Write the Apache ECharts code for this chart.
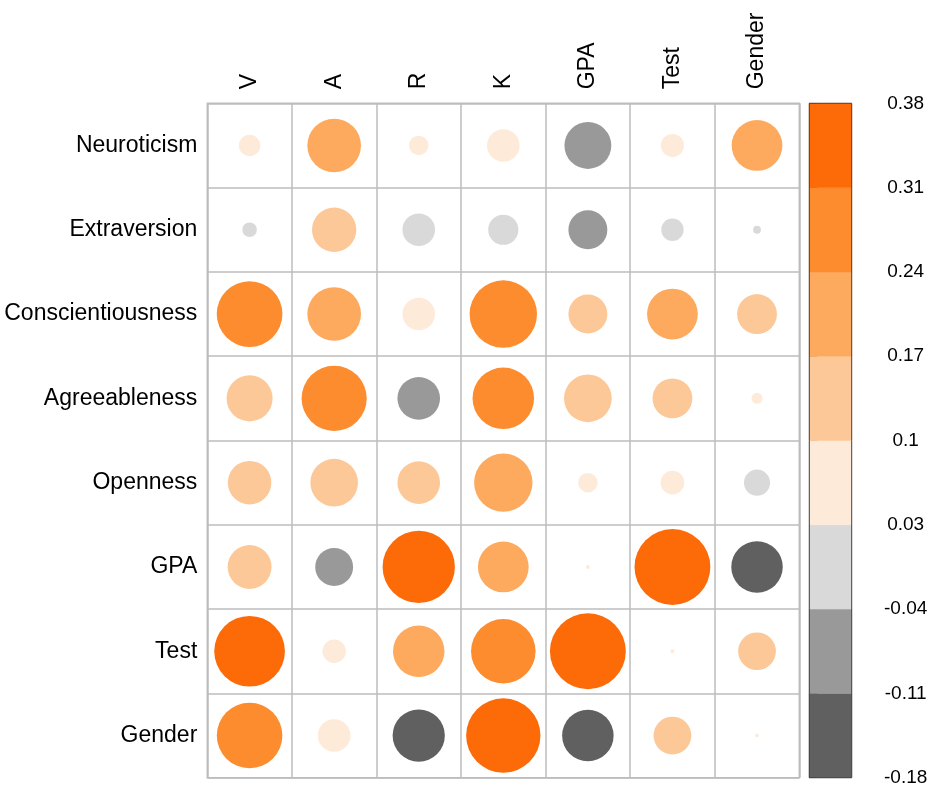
<!DOCTYPE html>
<html>
<head>
<meta charset="utf-8">
<title>Correlation plot</title>
<script src="https://cdn.jsdelivr.net/npm/echarts@6/dist/echarts.min.js"></script>
<style>
  html, body { margin: 0; padding: 0; background: #ffffff; }
  #chart { width: 931px; height: 788px; }
</style>
</head>
<body>
<div id="chart"></div>
<script>
// Column and row variables of the correlation matrix
const columns = ['V', 'A', 'R', 'K', 'GPA', 'Test', 'Gender'];
const rowNames = ['Neuroticism', 'Extraversion', 'Conscientiousness', 'Agreeableness', 'Openness', 'GPA', 'Test', 'Gender'];

// Correlations, one array per row (order follows `columns`)
const neuroticism       = [0.030, 0.190, 0.025, 0.070, -0.145, 0.035, 0.170];
const extraversion      = [-0.014, 0.130, -0.070, -0.060, -0.100, -0.033, -0.004];
const conscientiousness = [0.285, 0.190, 0.070, 0.300, 0.100, 0.170, 0.105];
const agreeableness     = [0.140, 0.280, -0.120, 0.250, 0.150, 0.105, 0.008];
const openness          = [0.125, 0.150, 0.120, 0.225, 0.025, 0.037, -0.045];
const gpa               = [0.127, -0.095, 0.345, 0.170, 0.001, 0.380, -0.175];
const test              = [0.330, 0.036, 0.175, 0.275, 0.380, 0.001, 0.094];
const gender            = [0.284, 0.070, -0.180, 0.365, -0.175, 0.094, 0.001];
const matrix = [neuroticism, extraversion, conscientiousness, agreeableness, openness, gpa, test, gender];

// Colour legend: tick labels (bottom to top) and the bin colours
const legendTicks = ['-0.18', '-0.11', '-0.04', '0.03', '0.1', '0.17', '0.24', '0.31', '0.38'];
const greyShades = ['#D9D9D9', '#999999', '#606060'];          // 0 -> more negative
const orangeShades = ['#FEEAD9', '#FDC898', '#FDAA5F', '#FD8C2F', '#FD6A08']; // 0 -> more positive
const legendColors = greyShades.slice().reverse().concat(orangeShades); // bottom to top

// Range used to scale circle size and colour
const valueMin = -0.18;
const valueMax = 0.38;
const absMax = Math.max(Math.abs(valueMin), Math.abs(valueMax));
const binWidth = absMax / orangeShades.length;

function shadeFor(v) {
  const idx = Math.floor(Math.abs(v) / binWidth);
  if (v < 0) return greyShades[Math.min(idx, greyShades.length - 1)];
  return orangeShades[Math.min(idx, orangeShades.length - 1)];
}

const points = [];
matrix.forEach((row, r) => {
  row.forEach((v, c) => points.push([c, r, v]));
});

// Layout
const gridLeft = 207.3, gridTop = 103.3, gridWidth = 592, gridHeight = 674.4;
const cellSize = Math.min(gridWidth / columns.length, gridHeight / rowNames.length);
const fontFamily = '"Liberation Sans", Arial, Helvetica, sans-serif';

const chart = echarts.init(document.getElementById('chart'), null, { renderer: 'canvas' });

chart.setOption({
  backgroundColor: '#ffffff',
  animation: false,
  grid: [
    { left: gridLeft, top: gridTop, width: gridWidth, height: gridHeight,
      show: true, borderColor: '#BDBDBD', borderWidth: 1.5, backgroundColor: 'transparent' },
    { left: 809.3, top: gridTop, width: 42.4, height: gridHeight, show: false }
  ],
  xAxis: [
    {
      gridIndex: 0, type: 'category', data: columns, position: 'top',
      axisLine: { show: false }, axisTick: { show: false },
      axisLabel: { rotate: -90, margin: 14, fontSize: 23, color: '#000', fontFamily: fontFamily },
      splitLine: { show: true, interval: 0, lineStyle: { color: '#BDBDBD', width: 1.5 } }
    },
    { gridIndex: 1, type: 'value', min: 0, max: 1, show: false }
  ],
  yAxis: [
    {
      gridIndex: 0, type: 'category', data: rowNames, inverse: true,
      axisLine: { show: false }, axisTick: { show: false },
      axisLabel: { margin: 10, fontSize: 23, color: '#000', fontFamily: fontFamily },
      splitLine: { show: true, interval: 0, lineStyle: { color: '#BDBDBD', width: 1.5 } }
    },
    {
      gridIndex: 1, type: 'value', min: 0, max: legendTicks.length - 1, interval: 1,
      position: 'right',
      axisLine: { show: true, lineStyle: { color: '#444', width: 1 } },
      axisTick: { show: true, length: 8, lineStyle: { color: '#444', width: 1 } },
      splitLine: { show: false },
      axisLabel: {
        margin: 54, align: 'center', fontSize: 19, color: '#000', fontFamily: fontFamily,
        formatter: (v) => legendTicks[v]
      }
    }
  ],
  series: [
    {
      type: 'scatter', xAxisIndex: 0, yAxisIndex: 0,
      data: points,
      symbol: 'circle',
      symbolSize: (d) => 0.9 * Math.sqrt(Math.abs(d[2]) / absMax) * cellSize,
      itemStyle: { color: (p) => shadeFor(p.data[2]), opacity: 1 },
      emphasis: { disabled: true }
    },
    {
      // colour bar bins
      type: 'custom', xAxisIndex: 1, yAxisIndex: 1,
      data: legendColors.map((col, i) => [i, col]),
      renderItem: (params, api) => {
        const i = api.value(0);
        const p0 = api.coord([0, i + 1]);
        const p1 = api.coord([1, i]);
        return {
          type: 'rect',
          shape: { x: p0[0], y: p0[1], width: p1[0] - p0[0], height: p1[1] - p0[1] },
          style: { fill: legendColors[i], stroke: legendColors[i], lineWidth: 0.5 }
        };
      },
      silent: true
    },
    {
      // colour bar outline
      type: 'custom', xAxisIndex: 1, yAxisIndex: 1,
      data: [[0]],
      renderItem: (params, api) => {
        const p0 = api.coord([0, legendColors.length]);
        const p1 = api.coord([1, 0]);
        return {
          type: 'rect',
          shape: { x: p0[0], y: p0[1], width: p1[0] - p0[0], height: p1[1] - p0[1] },
          style: { fill: 'none', stroke: '#444', lineWidth: 1 },
          z2: 10
        };
      },
      silent: true
    }
  ]
});
</script>
</body>
</html>
